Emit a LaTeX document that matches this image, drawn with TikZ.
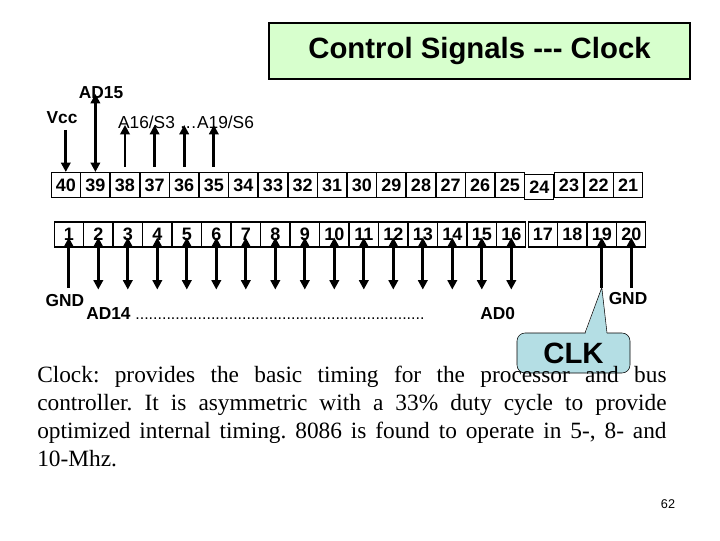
\documentclass[tikz,border=0pt]{standalone}
\usepackage{fontspec}
\setmainfont{Liberation Sans}
\newfontfamily\serifp{Liberation Serif}
\usetikzlibrary{arrows.meta}
\definecolor{tgreen}{RGB}{215,255,205}
\definecolor{clkblue}{RGB}{180,222,228}
\tikzset{
  pin/.style={draw,line width=0.8pt,minimum width=29*0.75pt,minimum height=25*0.75pt,inner sep=0pt,font=\bfseries\fontsize{13.5}{15}\selectfont},
  sig/.style={line width=2.2pt,-{Triangle[length=7pt,width=7pt]}},
  sigb/.style={line width=2.2pt,{Triangle[length=7pt,width=7pt]}-{Triangle[length=7pt,width=7pt]}},
  lbl/.style={font=\bfseries\fontsize{13}{15}\selectfont,inner sep=0pt}
}
\begin{document}
\begin{tikzpicture}[x=0.75pt,y=-0.75pt]
\useasboundingbox (0,0) rectangle (720,540);
\node[draw,line width=2.2pt,fill=tgreen,minimum width=421*0.75pt,minimum height=56*0.75pt,font=\bfseries\fontsize{22}{24}\selectfont] (title) at (479.5,51) {Control Signals {-}{-}{-} Clock};
% top row
\foreach \n [count=\i from 0] in {40,39,38,37,36,35,34,33,32,31,30,29,28,27,26,25,24,23,22,21}{
  \pgfmathsetmacro{\xx}{65.8+29.6*\i}
  \pgfmathsetmacro{\yy}{\n==24 ? 187 : 185}
  \node[pin] (t\n) at (\xx,\yy) {\n};
}
% bottom row
\foreach \n [count=\i from 0] in {1,...,20}{
  \pgfmathsetmacro{\xx}{\n>16 ? 68.8+29.5*\i+2 : 68.8+29.5*\i}
  \node[pin] (b\n) at (\xx,234.5) {\n};
}
% top arrows
\coordinate (c40) at ([yshift=42*0.75pt]t40.north);
\draw[sig] (c40) -- (t40.north);
\coordinate (c39) at ([yshift=78*0.75pt]t39.north);
\draw[sigb] (c39) -- (t39.north);
\foreach \n in {38,37,36,35}{
  \coordinate (c\n) at ([yshift=5*0.75pt]t\n.north);
  \coordinate (d\n) at ([yshift=47*0.75pt]t\n.north);
  \draw[sig] (c\n) -- (d\n);
}
% bottom arrows
\foreach \n in {1,19,20}{
  \coordinate (e\n) at ([yshift=-40*0.75pt]b\n.south);
  \draw[sig] (e\n) -- ([yshift=-3*0.75pt]b\n.center);
}
\foreach \n in {2,...,16}{
  \coordinate (e\n) at ([yshift=-42*0.75pt]b\n.south);
  \draw[sigb] (e\n) -- ([yshift=-3*0.75pt]b\n.center);
}
% labels
\node[lbl] (ad15) at (101,93) {AD15};
\node[lbl] (vcc) at (62,118) {Vcc};
\node[font=\fontsize{13}{15}\selectfont,inner sep=0pt] (a16) at (186,122) {A16/S3 \dots A19/S6};
\node[lbl] (gnd1) at (65,301) {GND};
\node[lbl,anchor=west] (ad14) at (86,314) {AD14 {\mdseries\fontsize{12}{12}\selectfont .................................................................}};
\node[lbl,anchor=west] (ad0) at (480,314) {AD0};
\node[lbl] (gnd2) at (628,299) {GND};
% callout
\node[rounded corners=6pt,draw,fill=clkblue,minimum width=113*0.75pt,minimum height=40*0.75pt,font=\bfseries\fontsize{22}{24}\selectfont] (clk) at (573.5,353) {CLK};
\fill[clkblue] (e19) -- (585,335) -- (607,335) -- cycle;
\draw (585,333) -- (e19) -- (607,333);
% paragraph
\node[anchor=north west,inner sep=0pt,text width=472pt,align=justify,font=\serifp\fontsize{17.5}{21}\selectfont] (txt) at (37,366) {\hyphenpenalty=10000\exhyphenpenalty=10000\frenchspacing Clock: provides the basic timing for the processor and bus\linebreak controller. It is asymmetric with a 33\% duty cycle to provide\linebreak optimized internal timing. 8086 is found to operate in 5-, 8- and\linebreak 10-Mhz.};
\node[font=\fontsize{9.5}{10}\selectfont] (pg) at (668,504) {62};
\end{tikzpicture}
\end{document}
